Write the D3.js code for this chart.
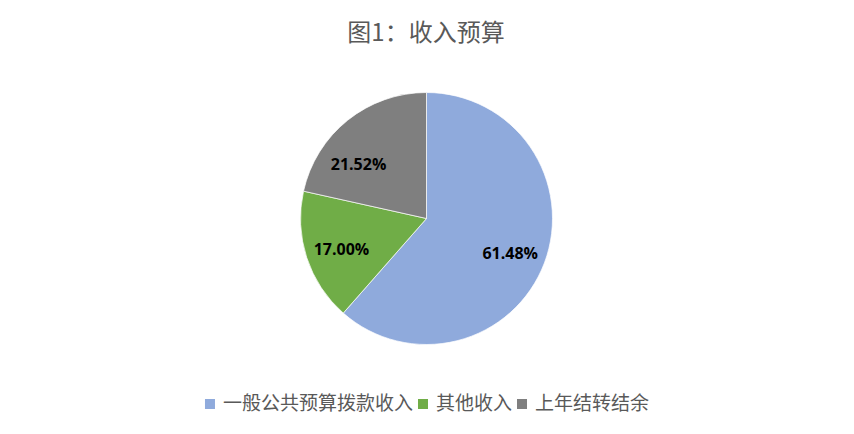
<!DOCTYPE html>
<html>
<head>
<meta charset="utf-8">
<script src="https://cdn.jsdelivr.net/npm/d3@7"></script>
<style>
body { margin: 0; background: #fff; }
svg { display: block; }
</style>
</head>
<body>
<div class="chart"></div>
<script>
const categories = ['一般公共预算拨款收入', '其他收入', '上年结转结余'];
const shares = [61.48, 17.00, 21.52];
const colors = ['#8FAADC', '#70AD47', '#7F7F7F'];
const title = '图1：收入预算';

const width = 854;
const height = 434;
const cx = 426.5;
const cy = 218.5;
const radius = 126;

const svg = d3.select('.chart').append('svg')
	.attr('width', width)
	.attr('height', height);

svg.append('text')
	.text(title)
	.attr('x', 426)
	.attr('y', 41)
	.attr('text-anchor', 'middle')
	.attr('font-family', '"Noto Sans CJK SC", sans-serif')
	.attr('font-size', 24)
	.attr('fill', '#595959');

const data = categories.map((c, i) => ({ name: c, value: shares[i], color: colors[i] }));

const pie = d3.pie()
	.value(d => d.value)
	.sort(null);

const arc = d3.arc()
	.innerRadius(0)
	.outerRadius(radius);

const labelArc = d3.arc()
	.innerRadius(radius * 0.71)
	.outerRadius(radius * 0.71);

const g = svg.append('g')
	.attr('transform', `translate(${cx},${cy})`);

const arcs = pie(data);

g.selectAll('.slice')
	.data(arcs)
	.enter()
	.append('path')
	.attr('d', arc)
	.attr('fill', d => d.data.color)
	.attr('stroke', '#ffffff')
	.attr('stroke-width', 0.7)
	.attr('class', 'slice');

// excel "best fit" pulls the last label further in, nudge it the same way
function nudge(i) {
	if (i === 2) return [-12, 12];
	return [0, 0];
}

g.selectAll('.pct')
	.data(arcs)
	.enter()
	.append('text')
	.text(d => `${d.data.value.toFixed(2)}%`)
	.attr('x', (d, i) => labelArc.centroid(d)[0] + nudge(i)[0])
	.attr('y', (d, i) => labelArc.centroid(d)[1] + nudge(i)[1])
	.attr('dy', 9)
	.attr('text-anchor', 'middle')
	.attr('font-family', '"Open Sans", sans-serif')
	.attr('font-weight', 'bold')
	.attr('font-size', 16)
	.attr('fill', '#000')
	.attr('class', 'pct');

// legend, centred under the pie
const legend = svg.append('g');
let lx = 0;
data.forEach(d => {
	const item = legend.append('g').attr('transform', `translate(${lx},0)`);
	item.append('rect')
		.attr('x', 0)
		.attr('y', -9)
		.attr('width', 10)
		.attr('height', 10)
		.attr('fill', d.color);
	const t = item.append('text')
		.text(d.name)
		.attr('x', 18)
		.attr('y', 2)
		.attr('font-family', '"Noto Sans CJK SC", sans-serif')
		.attr('font-size', 19)
		.attr('fill', '#595959');
	lx += 18 + t.node().getComputedTextLength() + 5;
});
const legendWidth = lx - 5;
legend.attr('transform', `translate(${427 - legendWidth / 2},408)`);
</script>
</body>
</html>
